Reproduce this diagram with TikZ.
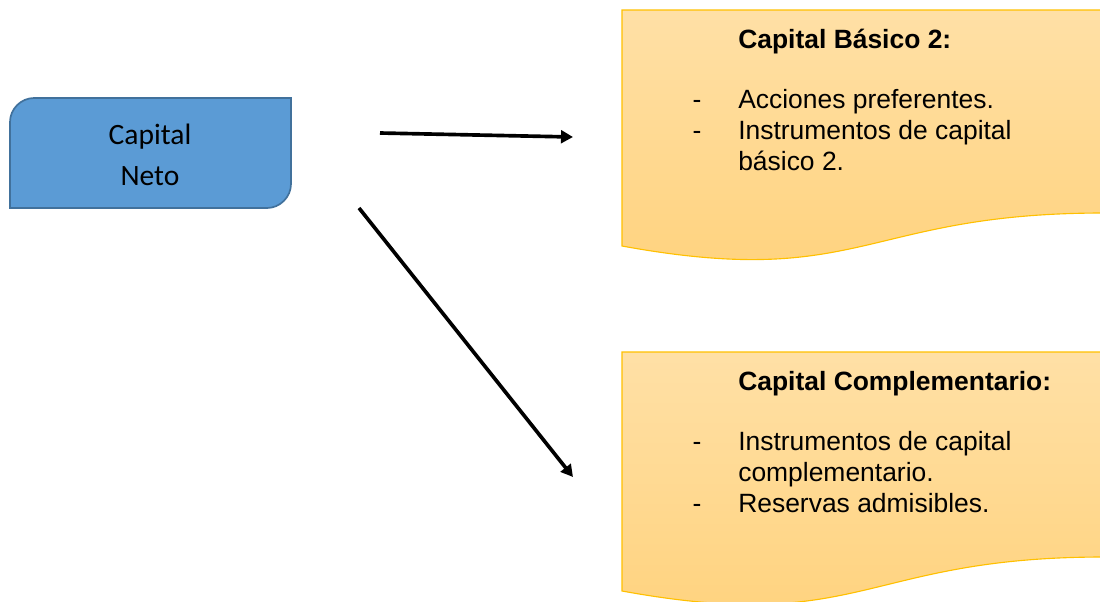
\documentclass[tikz,border=0pt]{standalone}
\usepackage{fontspec}
\setmainfont{Liberation Sans}
\newfontfamily\calibrifont{Carlito}
\usetikzlibrary{positioning, arrows.meta, calc}

\definecolor{netoblue}{HTML}{5B9BD5}
\definecolor{netoline}{HTML}{41719C}
\definecolor{docline}{HTML}{FFC000}
\definecolor{doctop}{HTML}{FFE0A6}
\definecolor{docbot}{HTML}{FFD27C}

\begin{document}
\begin{tikzpicture}[
    x=0.025cm, y=-0.025cm,
    netobox/.style={draw=netoline, fill=netoblue, line width=1.2pt},
    netotext/.style={align=center, font=\calibrifont\fontsize{21}{29.5}\selectfont},
    docbox/.style={draw=docline, line width=0.8pt, top color=doctop, bottom color=docbot},
    head/.style={anchor=base west, inner sep=0pt, font=\fontsize{18.8}{22}\selectfont\bfseries},
    line/.style={anchor=base west, inner sep=0pt, font=\fontsize{18.8}{22}\selectfont},
    bullet/.style={anchor=base, inner sep=0pt, font=\fontsize{18.8}{22}\selectfont},
    arrow/.style={-{Triangle[length=8.5pt, width=9pt]}, line width=2.6pt},
]
\useasboundingbox (0,0) rectangle (1100,601);

% ========== CAPITAL NETO ==========
\path[netobox] (10,208) -- (10,122) .. controls (10,109) and (21,98) .. (34,98) -- (291,98)
    -- (291,184) .. controls (291,197) and (280,208) .. (267,208) -- cycle;
\node[netotext] (neto) at (150,155) {Capital\\Neto};

% ========== DOCUMENTS ==========
% Capital Basico 2
\path[docbox] (622,10) -- (1104,10) -- (1104,213)
    .. controls (863,213) and (863,290) .. (622,246) -- cycle;
% Capital Complementario
\path[docbox] (622,352) -- (1104,352) -- (1104,557)
    .. controls (863,557) and (863,635) .. (622,591) -- cycle;

% ========== TEXTS ==========
\node[head] (b2h) at (738,48) {Capital Básico 2:};
\node[bullet] (b2d1) at (697,108) {-};
\node[line] (b2l1) at (738,108) {Acciones preferentes.};
\node[bullet] (b2d2) at (697,139) {-};
\node[line] (b2l2) at (738,139) {Instrumentos de capital};
\node[line] (b2l3) at (738,170) {básico 2.};

\node[head] (cch) at (738,390) {Capital Complementario:};
\node[bullet] (ccd1) at (697,450) {-};
\node[line] (ccl1) at (738,450) {Instrumentos de capital};
\node[line] (ccl2) at (738,481) {complementario.};
\node[bullet] (ccd2) at (697,512) {-};
\node[line] (ccl3) at (738,512) {Reservas admisibles.};

% ========== ARROWS ==========
\coordinate (a1s) at (380,133);
\coordinate (a1e) at (573,137);
\coordinate (a2s) at (359,208);
\coordinate (a2e) at (573,477);
\draw[arrow] (a1s) -- (a1e);
\draw[arrow] (a2s) -- (a2e);

\end{tikzpicture}
\end{document}
